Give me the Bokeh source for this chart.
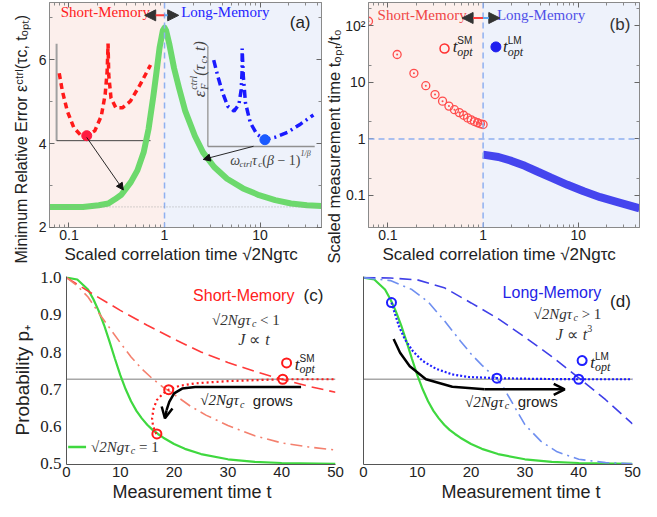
import math
from bokeh.plotting import figure
from bokeh.layouts import column, row
from bokeh.models import (Range1d, LinearScale, Label, Arrow, NormalHead, OpenHead, Title,
                          BoxAnnotation, Span, FixedTicker, NumeralTickFormatter,
                          LinearAxis, LogAxis)
from bokeh.embed import file_html
from bokeh.resources import INLINE

# ======================= DATA =======================
# (a) minimum relative error vs scaled correlation time
tau_a = [0.0625, 0.14, 0.205, 0.258, 0.302, 0.353, 0.375, 0.444, 0.52, 0.605, 0.68,
         0.763, 0.825, 0.89, 0.96, 1.0, 1.04, 1.12, 1.26, 1.42, 1.65, 2.08, 2.53,
         3.31, 4.51, 6.64, 9.76, 14.4, 21.1, 31.0, 44.0]
err_a = [2.49, 2.49, 2.53, 2.57, 2.67, 2.78, 2.86, 3.08, 3.36, 3.79, 4.34,
         5.12, 5.71, 6.30, 6.69, 6.76, 6.69, 6.38, 5.79, 5.32, 4.77, 4.18, 3.79,
         3.44, 3.16, 2.93, 2.77, 2.65, 2.57, 2.53, 2.51]
err_floor = 2.49
# (a) insets, in inset units (0..1 on each inset axis)
ins_sm_u = [0.028, 0.062, 0.114, 0.183, 0.252, 0.321, 0.407, 0.476, 0.517, 0.538, 0.548,
            0.555, 0.579, 0.631, 0.700, 0.786, 0.889, 1.0]
ins_sm_v = [0.695, 0.509, 0.305, 0.135, 0.061, 0.051, 0.102, 0.254, 0.475, 0.712, 1.0,
            0.679, 0.440, 0.339, 0.339, 0.407, 0.577, 0.78]
ins_sm_min_u = [0.321]
ins_sm_min_v = [0.051]
ins_lm_u = [0.055, 0.094, 0.139, 0.185, 0.245, 0.291, 0.312, 0.321, 0.321, 0.332, 0.352,
            0.397, 0.457, 0.534, 0.625, 0.745, 0.866, 0.988]
ins_lm_v = [0.868, 0.703, 0.538, 0.406, 0.356, 0.423, 0.571, 0.769, 0.983, 0.703, 0.439,
            0.241, 0.126, 0.069, 0.092, 0.142, 0.225, 0.317]
ins_lm_min_u = [0.534]
ins_lm_min_v = [0.069]

# (b) optimal measurement time
tau_sm = [0.0625, 0.125, 0.1875, 0.25, 0.3125, 0.375, 0.4375, 0.5, 0.5625, 0.625,
          0.6875, 0.75, 0.8125, 0.875, 0.9375, 1.0]
topt_sm = [121, 31.2, 14.5, 8.76, 6.1, 4.66, 3.81, 3.29, 2.92, 2.62, 2.35, 2.17, 2.03,
           1.93, 1.85, 1.80]
tau_lm = [1.0, 1.45, 1.99, 2.74, 3.76, 5.18, 7.69, 11.4, 17.0, 25.3, 44.0]
topt_lm = [0.526, 0.479, 0.408, 0.334, 0.262, 0.206, 0.154, 0.118, 0.093, 0.077, 0.059]

# (c), (d) probability vs measurement time
green_t = [0, 2, 4, 5, 6, 7, 8, 9, 10, 11, 12, 13, 14, 15, 16, 17, 18, 20, 22, 25, 30, 35, 40, 50]
green_p = [1.0, 0.995, 0.968, 0.942, 0.91, 0.872, 0.828, 0.782, 0.738, 0.70, 0.668, 0.642,
           0.622, 0.605, 0.591, 0.58, 0.57, 0.553, 0.54, 0.526, 0.512, 0.505, 0.502, 0.5]
sm_dash_t = [0, 5, 10, 15, 20, 25, 30, 35, 40, 45, 50]
sm_dash_p = [1.0, 0.955, 0.912, 0.872, 0.835, 0.80, 0.772, 0.748, 0.727, 0.708, 0.692]
sm_dashdot_t = [0, 2, 4, 6, 8, 10, 12, 14, 16, 18, 20, 23, 26, 30, 35, 40, 45, 50]
sm_dashdot_p = [1.0, 0.978, 0.948, 0.905, 0.865, 0.825, 0.787, 0.755, 0.728, 0.705, 0.686,
                0.655, 0.63, 0.603, 0.575, 0.556, 0.545, 0.537]
sm_path_t = [16.7, 16.1, 15.9, 16.2, 16.8, 17.9, 19.0, 20.9, 23.9, 30.0, 36.0, 40.2, 50.0]
sm_path_p = [0.58, 0.60, 0.622, 0.649, 0.671, 0.688, 0.699, 0.709, 0.716, 0.722, 0.725, 0.727, 0.727]
sm_opt_t = [16.8, 19.0, 40.2]
sm_opt_p = [0.58, 0.699, 0.727]
lm_dash_t = [0, 5, 10, 15, 20, 25, 30, 35, 40, 45, 50]
lm_dash_p = [1.0, 0.999, 0.994, 0.973, 0.932, 0.89, 0.84, 0.788, 0.731, 0.672, 0.607]
lm_dashdot_t = [0, 5, 9, 12, 15, 18, 20, 22, 24, 25, 26, 28, 30, 33, 36, 40, 45, 50]
lm_dashdot_p = [1.0, 0.992, 0.968, 0.935, 0.885, 0.83, 0.795, 0.765, 0.738, 0.725, 0.705,
                0.655, 0.605, 0.56, 0.532, 0.512, 0.503, 0.5]
lm_path_t = [5.2, 5.8, 6.6, 7.7, 9.2, 11.0, 13.5, 16.5, 19.5, 24.8, 31.6, 40.0, 50.0]
lm_path_p = [0.933, 0.905, 0.869, 0.834, 0.802, 0.776, 0.755, 0.74, 0.733, 0.730, 0.728, 0.727, 0.727]
lm_opt_t = [5.2, 24.8, 40.0]
lm_opt_p = [0.933, 0.730, 0.727]
p_limit = 0.727
# guide arrows drawn in (c) and (d)
arrow_c_t = [43.6, 23.9, 21.5, 20.0, 19.1, 18.6, 18.3]
arrow_c_p = [0.706, 0.706, 0.702, 0.689, 0.666, 0.644, 0.622]
arrow_d_t = [5.6, 6.8, 8.6, 11.6, 16.5, 22.5, 37.4]
arrow_d_p = [0.835, 0.798, 0.762, 0.727, 0.707, 0.700, 0.700]

# tick labels
log_tick_labels = {0.1: "0.1", 1: "1", 10: "10", 100: "10²"}

# ======================= STYLE / LAYOUT =======================
SANS = "Liberation Sans"
SERIF = "Liberation Serif"
NARROW = "Liberation Sans Narrow"
INK = "#222222"
PINK = "#fcefec"
BLUEBG = "#eef2fb"
GREEN_THICK = "#6cd96c"
GREEN = "#3fd83f"

XA = (0.0625, 44.0); YA = (1.999, 7.36)
XB = (0.0625, 44.0); YB = (0.027, 260.0)
XC = (0.0, 50.0); YC = (0.498, 1.003)
LOG_MINOR = [0.07, 0.08, 0.09, 0.2, 0.3, 0.4, 0.5, 0.6, 0.7, 0.8, 0.9,
             2, 3, 4, 5, 6, 7, 8, 9, 20, 30, 40]
H1, H2 = 263, 238          # row heights


def lg(v):
    return math.log10(v)


# reference-picture pixel -> data (for annotation placement inside frames)
def posA(sx, sy):
    return (10 ** (lg(XA[0]) + (sx - 50) / 280 * (lg(XA[1]) - lg(XA[0]))),
            YA[0] + (233 - sy) / 228 * (YA[1] - YA[0]))


def posB(sx, sy):
    return (10 ** (lg(XB[0]) + (sx - 377) / 278 * (lg(XB[1]) - lg(XB[0]))),
            10 ** (lg(YB[0]) + (233 - sy) / 228 * (lg(YB[1]) - lg(YB[0]))))


def posC(sx, sy):
    return (sx - 68.3) / 275.0 * 50, 0.5 + (477.7 - sy) / 188.4 * 0.5


def posD(sx, sy):
    return (sx - 372.7) / 275.6 * 50, 0.5 + (477.7 - sy) / 188.4 * 0.5


W_SANS = {'_': .556, ' ': .278, 'i': .222, 'j': .222, 'l': .222, 'f': .278, 't': .278,
          'r': .333, 'm': .833, 'M': .833, 'w': .722, 'S': .667, 'E': .667, 'R': .722,
          'P': .667, 'L': .556, 'c': .5, 'k': .5, 's': .5, 'v': .5, 'x': .5, 'y': .5,
          'z': .5, '-': .333, '.': .278, ',': .278, '(': .333, ')': .333, '/': .278, 'N': .722}
W_SERIF = {'_': .5, ' ': .25, 'i': .278, 'l': .278, 't': .278, 'f': .278, 'r': .389,
           's': .389, 'c': .444, 'e': .444, 'k': .444, 'v': .444, 'x': .444, 'y': .444,
           'm': .722, 'w': .667, 'N': .667, 'J': .444, 'F': .611, 'τ': .44, 'ε': .44,
           'ω': .67, 'β': .5, '(': .333, ')': .333, ',': .25, '√': .55, '<': .564,
           '>': .564, '=': .564, '−': .564, '∝': .75, '/': .278, '+': .564}


def text_w(s, size, font):
    table = W_SERIF if font == SERIF else W_SANS
    k = 0.82 if font == NARROW else 1.0
    return sum(table.get(ch, table['_']) for ch in s) * size * k


def P(text, size, font=SERIF, style="italic", shift=0, adv=True):
    return (text, size, font, style, shift, adv)


def lab(p, xy, text, size, font=SANS, style="normal", color=INK, align="center",
        baseline="middle", angle=0.0, xo=0, yo=0):
    p.add_layout(Label(x=xy[0], y=xy[1], text=text, text_font=font,
                       text_font_size=f"{size}px", text_font_style=style,
                       text_color=color, text_align=align, text_baseline=baseline,
                       angle=angle, x_offset=xo, y_offset=yo))


def seq(p, xy, pieces, color=INK, center=False, rotated=False):
    """Place text pieces one after another (leading blanks become a gap)."""
    items = []
    for (t, s, f, st, sh, adv) in pieces:
        stripped = t.lstrip(" ")
        gap = text_w(t[:len(t) - len(stripped)], s, f)
        items.append((stripped, s, f, st, sh, adv, gap, text_w(stripped, s, f)))
    total = sum(it[6] + it[7] for it in items if it[5])
    cum = -total / 2 if center else 0.0
    for (t, s, f, st, sh, adv, gap, w) in items:
        x0 = cum + gap
        if rotated:
            xo, yo = -sh, x0
        else:
            xo, yo = x0, sh
        lab(p, xy, t, s, f, st, color, "left", "middle",
            math.pi / 2 if rotated else 0.0, xo, yo)
        if adv:
            cum = x0 + w


def add_title(p, side, text, size, offset=0, standoff=0, font=SANS):
    p.add_layout(Title(text=text, align="left", offset=offset, standoff=standoff,
                       text_font=font, text_font_size=f"{size}px", text_font_style="normal",
                       text_color=INK), side)


def base_fig(w, h, xr, yr, xlog, ylog, bl, br, bt, bb):
    p = figure(width=w, height=h, x_range=xr, y_range=yr, title=None,
               x_axis_type="log" if xlog else "linear",
               y_axis_type="log" if ylog else "linear",
               output_backend="svg", toolbar_location=None,
               min_border_left=bl, min_border_right=br,
               min_border_top=bt, min_border_bottom=bb)
    p.grid.visible = False
    p.border_fill_color = "white"
    return p


def tick_style(ax):
    ax.major_tick_in = 5
    ax.major_tick_out = 0
    ax.minor_tick_in = 3
    ax.minor_tick_out = 0
    ax.axis_line_color = "#8a8a8a"
    ax.major_tick_line_color = "#666666"
    ax.minor_tick_line_color = "#888888"
    ax.major_label_text_font = SANS
    ax.major_label_text_color = INK
    ax.major_label_text_font_size = "14px"
    ax.major_label_standoff = 2


def mirror_axis(axis_cls, ticks, minor):
    ax = axis_cls(ticker=FixedTicker(ticks=ticks, minor_ticks=minor))
    tick_style(ax)
    ax.major_label_text_font_size = "1px"
    ax.major_label_text_alpha = 0.0
    ax.major_label_standoff = 0
    ax.major_label_overrides = {t: "" for t in ticks}
    return ax


def style_box_axes(p, yticks, yminor, ylog):
    p.xaxis.ticker = FixedTicker(ticks=[0.1, 1, 10], minor_ticks=LOG_MINOR)
    p.yaxis.ticker = FixedTicker(ticks=yticks, minor_ticks=yminor)
    p.xaxis.major_label_overrides = log_tick_labels
    for ax in (p.xaxis, p.yaxis):
        tick_style(ax[0])
    p.yaxis.major_label_standoff = 3
    p.add_layout(mirror_axis(LogAxis, [0.1, 1, 10], LOG_MINOR), "above")
    p.add_layout(mirror_axis(LogAxis if ylog else LinearAxis, yticks, yminor), "right")
    p.outline_line_color = "#8a8a8a"
    p.background_fill_color = BLUEBG
    p.add_layout(BoxAnnotation(right=1.0, fill_color=PINK, fill_alpha=1.0,
                               line_color=None, level="underlay"))
    p.add_layout(Span(location=1.0, dimension="height", line_color="#8fb0f0",
                      line_dash="6 4", line_width=1.5))


def style_open_axes(p, ylabels=True):
    for ax in (p.xaxis, p.yaxis):
        ax.major_tick_in = 0
        ax.major_tick_out = 0
        ax.minor_tick_line_color = None
        ax.axis_line_color = "#555555"
        ax.major_label_text_color = INK
    p.outline_line_color = None
    p.xaxis.ticker = FixedTicker(ticks=[0, 10, 20, 30, 40, 50])
    p.xaxis.major_label_text_font = SANS
    p.xaxis.major_label_text_font_size = "15px"
    p.xaxis.major_label_standoff = 2
    if ylabels:
        p.yaxis.ticker = FixedTicker(ticks=[0.5, 0.6, 0.7, 0.8, 0.9, 1.0])
        p.yaxis.formatter = NumeralTickFormatter(format="0.0")
        p.yaxis.major_label_text_font = SERIF
        p.yaxis.major_label_text_font_size = "17px"
        p.yaxis.major_label_standoff = 5
    else:
        p.yaxis.ticker = FixedTicker(ticks=[])
    p.add_layout(Span(location=p_limit, dimension="width", line_color="#a8a8a8",
                      line_width=1.5, level="underlay"))


def top_arrow(p, pos, sy, sx_left, sx_right):
    y = pos(0, sy)[1]
    xl = pos(sx_left, sy)[0]
    xr = pos(sx_right, sy)[0]
    p.add_layout(Arrow(x_start=1.0, y_start=y, x_end=xl, y_end=y, line_color="#ff3b3b",
                       line_width=2, end=NormalHead(size=11, fill_color="#333333",
                                                    line_color="#333333", line_width=1)))
    p.add_layout(Arrow(x_start=1.0, y_start=y, x_end=xr, y_end=y, line_color="#5fa8f0",
                       line_width=2, end=NormalHead(size=11, fill_color="#333333",
                                                    line_color="#333333", line_width=1)))


def topt_label(p, xy, sup, color=INK):
    seq(p, xy, [P("t", 17), P(sup, 10, SANS, "normal", 6, adv=False), P("opt", 12, shift=-5)],
        color=color)


def sqrt_expr(tail, size=15, tail_font=SERIF, tail_style="normal"):
    return [P("√2Ngτ", size), P("c", int(size * 0.68), shift=-4), P(tail, size, tail_font, tail_style)]


# ======================= PANEL (a) =======================
pa = base_fig(322, H1, Range1d(*XA), Range1d(*YA), True, False, 49, 1, 2, 10)
style_box_axes(pa, [2, 4, 6], [3, 5, 7], False)
pa.add_layout(Span(location=err_floor, dimension="width", line_color="#999999",
                   line_dash="1 2", line_width=0.8))


def inset_range(f0, f1):
    span = 1.0 / (f1 - f0)
    return Range1d(-f0 * span, -f0 * span + span)


pa.extra_x_ranges = {"iL": inset_range((57.3 - 50) / 280, (154 - 50) / 280),
                     "iR": inset_range((213 - 50) / 280, (323 - 50) / 280)}
pa.extra_y_ranges = {"iL": inset_range((233 - 145) / 228, (233 - 46.7) / 228),
                     "iR": inset_range((233 - 151) / 228, (233 - 50) / 228)}
pa.extra_x_scales = {"iL": LinearScale(), "iR": LinearScale()}
pa.extra_y_scales = {"iL": LinearScale(), "iR": LinearScale()}

# inset frames
pa.line([0, 0], [0, 1], x_range_name="iL", y_range_name="iL", line_color="#a0a0a0", line_width=2)
pa.line([0, 1], [0, 0], x_range_name="iL", y_range_name="iL", line_color="#444444", line_width=1)
pa.line([0, 0], [0, 1], x_range_name="iR", y_range_name="iR", line_color="#a0a0a0", line_width=1.5)
pa.line([0, 1], [0, 0], x_range_name="iR", y_range_name="iR", line_color="#909090", line_width=1.5)
# inset curves
pa.line(ins_sm_u, ins_sm_v, x_range_name="iL", y_range_name="iL", line_color="#ff1a1a",
        line_width=3.5, line_dash="6 4")
pa.scatter(ins_sm_min_u, ins_sm_min_v, x_range_name="iL", y_range_name="iL", size=10,
           color="#ff1a40")
pa.line(ins_lm_u, ins_lm_v, x_range_name="iR", y_range_name="iR", line_color="#1a1aff",
        line_width=3.5, line_dash="8 4 2 4")
pa.scatter(ins_lm_min_u, ins_lm_min_v, x_range_name="iR", y_range_name="iR", size=10,
           color="#1a5aff")

pa.line(tau_a, err_a, line_color=GREEN_THICK, line_width=6, line_join="round")

for (s0, s1) in [((88.3, 141.7), (126, 195)), ((260, 150.7), (208.3, 164))]:
    a0 = posA(*s0)
    a1 = posA(*s1)
    pa.add_layout(Arrow(x_start=a0[0], y_start=a0[1], x_end=a1[0], y_end=a1[1],
                        line_color="#111111", line_width=0.9,
                        end=NormalHead(size=7, fill_color="#111111", line_color="#111111")))

lab(pa, posA(107.5, 15), "Short-Memory", 15, NARROW, color="#ff2020")
lab(pa, posA(231, 15), "Long-Memory", 15, NARROW, color="#2424ff")
lab(pa, posA(308, 25), "(a)", 17)
top_arrow(pa, posA, 18, 148, 183)
# inset labels
seq(pa, posA(204.5, 101), [P("ε", 17), P("F", 10, shift=-5, adv=False), P("ctrl", 10, shift=6),
                           P("(τ", 16), P("c", 10, shift=-4), P(", t)", 16)],
    color="#444444", rotated=True)
seq(pa, posA(236, 165), [P("ω", 14), P("ctrl", 9, shift=-4), P("τ", 14), P("c", 9, shift=-4),
                         P("(", 14, style="normal"), P("β", 14), P(" − 1)", 14, style="normal"),
                         P("1/β", 8, shift=7)], color="#444444")
add_title(pa, "below", "Scaled correlation time √2Ngτc", 17, offset=15, standoff=0)
add_title(pa, "left", "Minimum Relative Error εᶜᵗʳˡ(τc, tₒₚₜ)", 16, offset=-36, standoff=12)

# ======================= PANEL (b) =======================
pb = base_fig(319, H1, Range1d(*XB), Range1d(*YB), True, True, 46, 2, 2, 10)
style_box_axes(pb, [0.1, 1, 10, 100], [0.2, 2, 20, 200], True)
pb.yaxis[0].major_label_overrides = log_tick_labels
pb.add_layout(Span(location=1.0, dimension="width", line_color="#8fb0f0",
                   line_dash="6 4", line_width=1.5))
pb.scatter(tau_sm, topt_sm, marker="circle_dot", size=8, fill_color=None,
           line_color="#ff4d4d", line_width=1.3)
pb.line(tau_lm, topt_lm, line_color="#4545ee", line_width=8)

lab(pb, posB(432, 18), "Short-Memory", 15, NARROW, color="#f04545")
lab(pb, posB(554, 18), "Long-Memory", 15, NARROW, color="#5050e8")
lab(pb, posB(635, 27), "(b)", 17, color="#333333")
top_arrow(pb, posB, 20.7, 473, 511.7)
lg_sm = posB(455, 51.7)
lg_lm = posB(507.7, 50)
pb.scatter([lg_sm[0]], [lg_sm[1]], size=9, fill_color=None, line_color="#ff3030", line_width=1.5)
pb.scatter([lg_lm[0]], [lg_lm[1]], size=10, color="#1f1fee")
topt_label(pb, posB(463.3, 50), "SM")
topt_label(pb, posB(515, 50), "LM")
add_title(pb, "below", "Scaled correlation time √2Ngτc", 17, offset=14, standoff=0)
add_title(pb, "left", "Scaled measurement time tₒₚₜ/t₀", 16.5, offset=-36, standoff=0)

# ======================= PANEL (c) =======================
pc = base_fig(350, H2, Range1d(*XC), Range1d(*YC), False, False, 66, 15, 13, 10)
style_open_axes(pc, True)
pc.line(green_t, green_p, line_color=GREEN, line_width=2.2)
pc.line(sm_dash_t, sm_dash_p, line_color="#ff3a3a", line_width=1.6, line_dash="12 6")
pc.line(sm_dashdot_t, sm_dashdot_p, line_color="#f4806e", line_width=1.6, line_dash="12 5 2 5")
pc.line(sm_path_t, sm_path_p, line_color="#ff1a1a", line_width=2.2, line_dash="2 3")
pc.scatter(sm_opt_t, sm_opt_p, size=9, fill_color=None, line_color="#ff1a1a", line_width=2)
pc.line(arrow_c_t[:-1], arrow_c_p[:-1], line_color="black", line_width=2.5)
pc.add_layout(Arrow(x_start=arrow_c_t[-2], y_start=arrow_c_p[-2], x_end=arrow_c_t[-1],
                    y_end=arrow_c_p[-1], line_color="black", line_width=2.5,
                    end=OpenHead(size=11, line_width=2.5, line_color="black")))

lab(pc, posC(249.5, 307.3), "Short-Memory", 16, color="#ff2020")
lab(pc, posC(320.8, 307.3), "(c)", 17)
seq(pc, posC(251.7, 331.7), sqrt_expr(" < 1"), color="#333333", center=True)
seq(pc, posC(260, 352), [P("J", 16), P(" ∝ ", 16, style="normal"), P("t", 16)],
    color="#333333", center=True)
lc = posC(293.3, 375.7)
pc.scatter([lc[0]], [lc[1]], size=9, fill_color=None, line_color="#ff1a1a", line_width=2)
topt_label(pc, posC(301.7, 377), "SM")
seq(pc, posC(205, 413.3), sqrt_expr("  grows", 15, SANS, "normal"), color="#222222")
g0 = posC(70, 460.7)
g1 = posC(88.3, 460.7)
pc.line([g0[0], g1[0]], [g0[1], g1[1]], line_color=GREEN, line_width=2.5)
seq(pc, posC(93.3, 460.7), sqrt_expr(" = 1"), color="#333333")
add_title(pc, "below", "Measurement time t", 18, offset=46, standoff=0)
add_title(pc, "left", "Probability p₊", 19, offset=29, standoff=10)

# ======================= PANEL (d) =======================
pd = base_fig(291, H2, Range1d(*XC), Range1d(*YC), False, False, 13, 9, 13, 10)
style_open_axes(pd, False)
pd.line(green_t, green_p, line_color=GREEN, line_width=2.2)
pd.line(lm_dash_t, lm_dash_p, line_color="#3f3fe8", line_width=1.6, line_dash="12 6")
pd.line(lm_dashdot_t, lm_dashdot_p, line_color="#6f8ff0", line_width=1.6, line_dash="12 5 2 5")
pd.line(lm_path_t, lm_path_p, line_color="#1f1fff", line_width=2.2, line_dash="2 2")
pd.scatter(lm_opt_t, lm_opt_p, size=9, fill_color=None, line_color="#1f1fff", line_width=2)
pd.line(arrow_d_t[:-1], arrow_d_p[:-1], line_color="black", line_width=2.5)
pd.add_layout(Arrow(x_start=arrow_d_t[-2], y_start=arrow_d_p[-2], x_end=arrow_d_t[-1],
                    y_end=arrow_d_p[-1], line_color="black", line_width=2.5,
                    end=OpenHead(size=11, line_width=2.5, line_color="black")))

lab(pd, posD(565.8, 304), "Long-Memory", 16, color="#2323e6")
lab(pd, posD(636, 313.3), "(d)", 17)
seq(pd, posD(581.7, 326), sqrt_expr(" > 1"), color="#333333", center=True)
seq(pd, posD(588.3, 346.7), [P("J", 16), P(" ∝ ", 16, style="normal"), P("t", 16),
                             P("3", 10, style="normal", shift=6)], color="#333333", center=True)
ld = posD(596.7, 373.3)
pd.scatter([ld[0]], [ld[1]], size=9, fill_color=None, line_color="#1f1fff", line_width=2)
topt_label(pd, posD(605, 375), "LM")
seq(pd, posD(476.7, 415), sqrt_expr("  grows", 15, SANS, "normal"), color="#222222")
add_title(pd, "below", "Measurement time t", 18, offset=78, standoff=0)

layout = column(row(pa, pb), row(pc, pd))
open("out.html", "w").write(file_html(layout, INLINE))
